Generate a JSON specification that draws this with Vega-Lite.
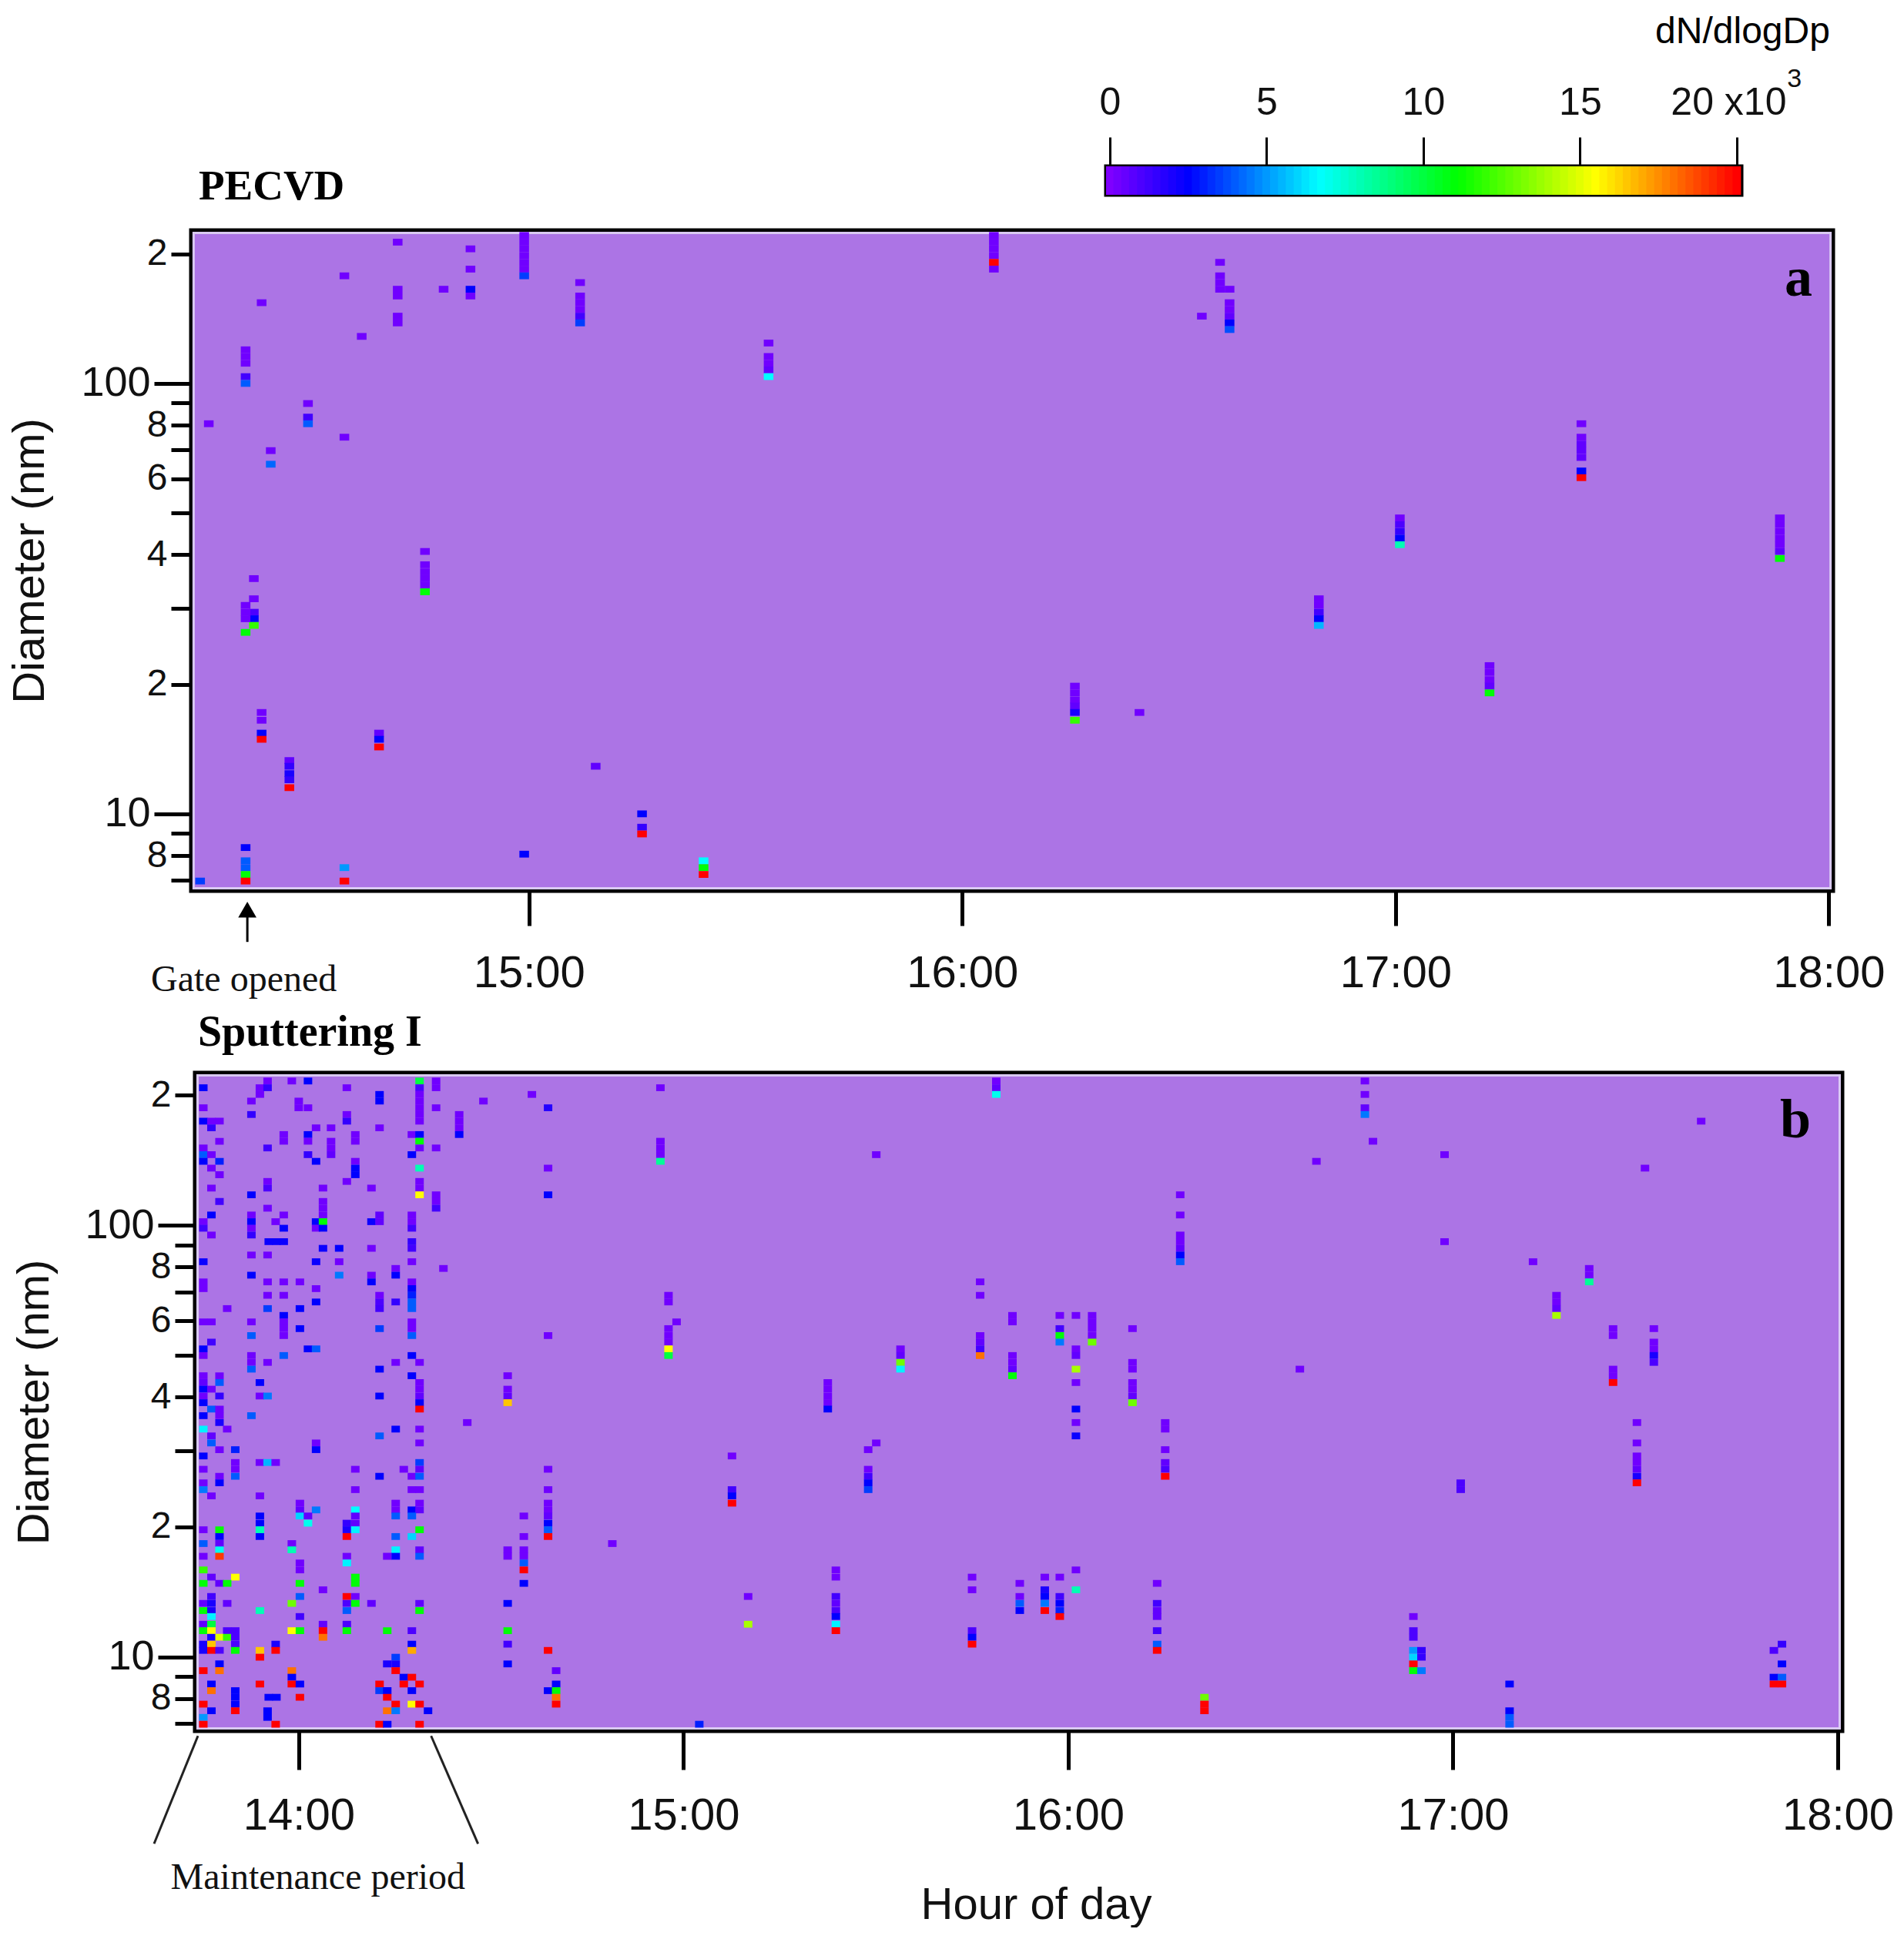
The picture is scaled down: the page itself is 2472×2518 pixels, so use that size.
{"$schema":"https://vega.github.io/schema/vega-lite/v6.json","background":"white","padding":{"left":8,"top":14,"right":0,"bottom":0},"config":{"view":{"stroke":null},"text":{"font":"Liberation Sans"}},"datasets":{"bar":[{"v":0},{"v":0.25},{"v":0.5},{"v":0.75},{"v":1},{"v":1.25},{"v":1.5},{"v":1.75},{"v":2},{"v":2.25},{"v":2.5},{"v":2.75},{"v":3},{"v":3.25},{"v":3.5},{"v":3.75},{"v":4},{"v":4.25},{"v":4.5},{"v":4.75},{"v":5},{"v":5.25},{"v":5.5},{"v":5.75},{"v":6},{"v":6.25},{"v":6.5},{"v":6.75},{"v":7},{"v":7.25},{"v":7.5},{"v":7.75},{"v":8},{"v":8.25},{"v":8.5},{"v":8.75},{"v":9},{"v":9.25},{"v":9.5},{"v":9.75},{"v":10},{"v":10.25},{"v":10.5},{"v":10.75},{"v":11},{"v":11.25},{"v":11.5},{"v":11.75},{"v":12},{"v":12.25},{"v":12.5},{"v":12.75},{"v":13},{"v":13.25},{"v":13.5},{"v":13.75},{"v":14},{"v":14.25},{"v":14.5},{"v":14.75},{"v":15},{"v":15.25},{"v":15.5},{"v":15.75},{"v":16},{"v":16.25},{"v":16.5},{"v":16.75},{"v":17},{"v":17.25},{"v":17.5},{"v":17.75},{"v":18},{"v":18.25},{"v":18.5},{"v":18.75},{"v":19},{"v":19.25},{"v":19.5},{"v":19.75},{"v":20}],
"cellsA":[{"t":14.697,"d":212.9,"v":0.3},{"t":14.865,"d":205.4,"v":0.3},{"t":14.865,"d":184.3,"v":0.3},{"t":14.865,"d":165.5,"v":2.5},{"t":14.865,"d":159.6,"v":0.3},{"t":14.989,"d":220.7,"v":0.3},{"t":14.989,"d":212.9,"v":0.3},{"t":14.989,"d":205.4,"v":0.3},{"t":14.989,"d":198.1,"v":0.3},{"t":14.989,"d":191.1,"v":0.3},{"t":14.989,"d":184.3,"v":0.3},{"t":14.989,"d":177.8,"v":3.5},{"t":14.574,"d":177.8,"v":0.3},{"t":14.697,"d":165.5,"v":0.3},{"t":14.697,"d":159.6,"v":0.3},{"t":14.697,"d":143.3,"v":0.3},{"t":14.697,"d":138.2,"v":0.3},{"t":14.803,"d":165.5,"v":0.3},{"t":15.118,"d":171.5,"v":0.3},{"t":15.118,"d":159.6,"v":0.3},{"t":15.118,"d":154,"v":0.3},{"t":15.118,"d":148.6,"v":0.3},{"t":15.118,"d":143.3,"v":1.2},{"t":15.118,"d":138.2,"v":3.5},{"t":14.383,"d":154,"v":0.3},{"t":14.614,"d":128.6,"v":0.3},{"t":14.346,"d":119.7,"v":0.3},{"t":14.346,"d":115.5,"v":0.3},{"t":14.346,"d":111.4,"v":0.3},{"t":14.346,"d":103.7,"v":1.2},{"t":14.346,"d":100,"v":4},{"t":15.553,"d":124.1,"v":0.3},{"t":15.553,"d":115.5,"v":0.3},{"t":15.553,"d":111.4,"v":0.3},{"t":15.553,"d":107.5,"v":0.6},{"t":15.553,"d":103.7,"v":6.7},{"t":14.49,"d":89.8,"v":0.3},{"t":14.49,"d":83.5,"v":1.2},{"t":14.49,"d":80.6,"v":4},{"t":14.261,"d":80.6,"v":0.3},{"t":14.574,"d":75,"v":0.3},{"t":14.404,"d":69.8,"v":0.3},{"t":14.404,"d":64.9,"v":4.2},{"t":14.76,"d":40.7,"v":0.3},{"t":14.76,"d":37.9,"v":0.3},{"t":14.76,"d":36.5,"v":0.3},{"t":14.76,"d":35.2,"v":0.3},{"t":14.76,"d":34,"v":0.3},{"t":14.76,"d":32.8,"v":11},{"t":14.365,"d":35.2,"v":0.3},{"t":14.365,"d":31.6,"v":0.3},{"t":14.365,"d":29.4,"v":1},{"t":14.365,"d":28.4,"v":2.5},{"t":14.365,"d":27.4,"v":12},{"t":14.346,"d":30.5,"v":0.3},{"t":14.346,"d":29.4,"v":0.3},{"t":14.346,"d":28.4,"v":0.3},{"t":14.346,"d":26.4,"v":11},
{"t":14.383,"d":17.2,"v":0.3},{"t":14.383,"d":16.5,"v":0.3},{"t":14.383,"d":15.4,"v":2.5},{"t":14.383,"d":14.9,"v":20},{"t":14.654,"d":15.4,"v":0.6},{"t":14.654,"d":14.9,"v":2.5},{"t":14.654,"d":14.3,"v":20},{"t":14.447,"d":13.3,"v":0.6},{"t":14.447,"d":12.9,"v":1.5},{"t":14.447,"d":12.4,"v":2},{"t":14.447,"d":12,"v":1.5},{"t":14.447,"d":11.5,"v":20},{"t":15.154,"d":12.9,"v":0.6},{"t":15.261,"d":10,"v":2.5},{"t":15.261,"d":9.31,"v":1.5},{"t":15.261,"d":8.98,"v":20},{"t":14.989,"d":8.06,"v":2.5},{"t":14.346,"d":8.35,"v":2.5},{"t":14.346,"d":7.78,"v":4},{"t":14.346,"d":7.5,"v":4},{"t":14.346,"d":7.23,"v":11},{"t":14.346,"d":6.98,"v":20},{"t":14.241,"d":6.98,"v":3.5},{"t":14.574,"d":7.5,"v":5},{"t":14.574,"d":6.98,"v":20},{"t":15.403,"d":7.78,"v":6.7},{"t":15.403,"d":7.5,"v":11},{"t":15.403,"d":7.23,"v":20},
{"t":16.073,"d":220.7,"v":0.3},{"t":16.073,"d":212.9,"v":0.3},{"t":16.073,"d":205.4,"v":0.3},{"t":16.073,"d":198.1,"v":0.3},{"t":16.073,"d":191.1,"v":20},{"t":16.073,"d":184.3,"v":0.3},{"t":16.595,"d":191.1,"v":0.3},{"t":16.595,"d":177.8,"v":0.3},{"t":16.595,"d":171.5,"v":0.3},{"t":16.595,"d":165.5,"v":0.3},{"t":16.617,"d":165.5,"v":0.3},{"t":16.617,"d":154,"v":0.3},{"t":16.617,"d":148.6,"v":0.3},{"t":16.617,"d":143.3,"v":0.6},{"t":16.617,"d":138.2,"v":2.5},{"t":16.617,"d":133.4,"v":3.8},{"t":16.553,"d":143.3,"v":0.3},{"t":16.26,"d":19.8,"v":0.3},{"t":16.26,"d":19.1,"v":0.3},{"t":16.26,"d":18.4,"v":0.3},{"t":16.26,"d":17.8,"v":0.6},{"t":16.26,"d":17.2,"v":2},{"t":16.26,"d":16.5,"v":12},{"t":16.409,"d":17.2,"v":0.3},
{"t":17.429,"d":80.6,"v":0.3},{"t":17.429,"d":75,"v":0.3},{"t":17.429,"d":72.3,"v":0.6},{"t":17.429,"d":69.8,"v":0.6},{"t":17.429,"d":67.3,"v":0.6},{"t":17.429,"d":62.6,"v":2.5},{"t":17.429,"d":60.4,"v":20},{"t":17.01,"d":48.7,"v":0.3},{"t":17.01,"d":47,"v":1},{"t":17.01,"d":45.3,"v":1.5},{"t":17.01,"d":43.7,"v":2.5},{"t":17.01,"d":42.2,"v":8},{"t":17.887,"d":48.7,"v":0.3},{"t":17.887,"d":47,"v":0.3},{"t":17.887,"d":45.3,"v":0.3},{"t":17.887,"d":43.7,"v":0.3},{"t":17.887,"d":42.2,"v":0.3},{"t":17.887,"d":40.7,"v":0.6},{"t":17.887,"d":39.2,"v":11},{"t":16.823,"d":31.6,"v":0.3},{"t":16.823,"d":30.5,"v":0.3},{"t":16.823,"d":29.4,"v":1.2},{"t":16.823,"d":28.4,"v":2.5},{"t":16.823,"d":27.4,"v":5.5},{"t":17.217,"d":22.1,"v":0.3},{"t":17.217,"d":21.3,"v":0.3},{"t":17.217,"d":20.5,"v":0.3},{"t":17.217,"d":19.8,"v":0.6},{"t":17.217,"d":19.1,"v":11}],
"cellsB":[{"t":13.919,"d":215.8,"v":0.3},{"t":13.982,"d":215.8,"v":0.3},{"t":14.024,"d":215.8,"v":2.5},{"t":14.314,"d":215.8,"v":10},{"t":14.357,"d":215.8,"v":0.3},{"t":13.752,"d":208.2,"v":2.5},{"t":13.899,"d":208.2,"v":0.3},{"t":13.919,"d":208.2,"v":1.5},{"t":14.125,"d":208.2,"v":0.3},{"t":14.314,"d":208.2,"v":1},{"t":14.357,"d":208.2,"v":0.3},{"t":13.899,"d":200.9,"v":0.3},{"t":14.21,"d":200.9,"v":2.5},{"t":14.314,"d":200.9,"v":0.3},{"t":14.606,"d":200.9,"v":0.3},{"t":13.877,"d":193.9,"v":0.3},{"t":14.21,"d":193.9,"v":2.5},{"t":14,"d":193.9,"v":0.3},{"t":14.314,"d":193.9,"v":0.3},{"t":14.48,"d":193.9,"v":0.3},{"t":13.752,"d":187.1,"v":0.3},{"t":14,"d":187.1,"v":0.3},{"t":14.024,"d":187.1,"v":0.3},{"t":14.357,"d":187.1,"v":0.3},{"t":14.314,"d":187.1,"v":0.3},{"t":14.648,"d":187.1,"v":1.8},{"t":13.877,"d":180.5,"v":1.5},{"t":14.125,"d":180.5,"v":0.3},{"t":14.314,"d":180.5,"v":0.3},{"t":14.417,"d":180.5,"v":0.3},{"t":13.752,"d":174.2,"v":2.5},{"t":13.773,"d":174.2,"v":0.3},{"t":13.794,"d":174.2,"v":0.3},{"t":14.125,"d":174.2,"v":1.5},{"t":14.314,"d":174.2,"v":0.3},{"t":14.417,"d":174.2,"v":0.3},{"t":13.773,"d":168.1,"v":1.5},{"t":14.045,"d":168.1,"v":0.3},{"t":14.084,"d":168.1,"v":0.3},{"t":14.21,"d":168.1,"v":0.3},{"t":14.417,"d":168.1,"v":0.3},{"t":13.961,"d":162.2,"v":0.3},{"t":14.024,"d":162.2,"v":2.5},{"t":14.147,"d":162.2,"v":0.3},{"t":14.294,"d":162.2,"v":0.3},{"t":14.314,"d":162.2,"v":2.5},{"t":14.417,"d":162.2,"v":2.5},{"t":13.794,"d":156.5,"v":0.3},{"t":13.961,"d":156.5,"v":0.3},{"t":14.024,"d":156.5,"v":0.3},{"t":14.084,"d":156.5,"v":0.3},{"t":14.147,"d":156.5,"v":0.3},{"t":14.314,"d":156.5,"v":11},{"t":13.752,"d":151,"v":0.3},{"t":13.919,"d":151,"v":1.2},{"t":14.084,"d":151,"v":0.3},{"t":14.314,"d":151,"v":0.3},{"t":14.357,"d":151,"v":0.3},{"t":13.752,"d":145.7,"v":4},{"t":13.773,"d":145.7,"v":0.3},{"t":14.024,"d":145.7,"v":1.5},{"t":14.084,"d":145.7,"v":0.6},{"t":14.294,"d":145.7,"v":2.5},{"t":13.752,"d":140.6,"v":2.5},{"t":13.794,"d":140.6,"v":3},{"t":14.045,"d":140.6,"v":2.5},{"t":14.147,"d":140.6,"v":0.3},{"t":13.773,"d":135.6,"v":0.3},{"t":14.147,"d":135.6,"v":2.5},{"t":14.314,"d":135.6,"v":8},{"t":14.648,"d":135.6,"v":0.3},{"t":13.794,"d":130.9,"v":0.3},{"t":14.147,"d":130.9,"v":2.5},{"t":13.919,"d":126.3,"v":0.3},{"t":14.125,"d":126.3,"v":0.3},{"t":14.314,"d":126.3,"v":0.3},{"t":13.773,"d":121.9,"v":0.3},{"t":13.919,"d":121.9,"v":1},{"t":14.063,"d":121.9,"v":0.3},{"t":14.189,"d":121.9,"v":0.3},{"t":14.314,"d":121.9,"v":0.3},{"t":13.877,"d":117.6,"v":2.5},{"t":14.314,"d":117.6,"v":15.5},{"t":14.357,"d":117.6,"v":0.3},{"t":14.648,"d":117.6,"v":2.5},{"t":13.794,"d":113.5,"v":1.2},{"t":14.063,"d":113.5,"v":0.3},{"t":14.357,"d":113.5,"v":0.3},{"t":13.919,"d":109.5,"v":0.3},{"t":14.063,"d":109.5,"v":0.3},{"t":14.357,"d":109.5,"v":1.2},{"t":13.773,"d":105.6,"v":2.5},{"t":13.877,"d":105.6,"v":0.3},{"t":13.961,"d":105.6,"v":0.3},{"t":14.063,"d":105.6,"v":0.3},{"t":14.21,"d":105.6,"v":0.6},{"t":14.294,"d":105.6,"v":0.3},{"t":13.752,"d":101.9,"v":0.3},{"t":13.877,"d":101.9,"v":2.5},{"t":13.94,"d":101.9,"v":0.3},{"t":14.045,"d":101.9,"v":2.5},{"t":14.063,"d":101.9,"v":11},{"t":14.189,"d":101.9,"v":2.3},{"t":14.21,"d":101.9,"v":0.6},{"t":14.294,"d":101.9,"v":0.3},{"t":13.752,"d":98.4,"v":1.2},{"t":13.877,"d":98.4,"v":0.3},{"t":13.961,"d":98.4,"v":2.5},{"t":14.045,"d":98.4,"v":0.3},{"t":14.063,"d":98.4,"v":2.5},{"t":14.294,"d":98.4,"v":1.2},{"t":13.773,"d":94.9,"v":0.3},{"t":13.877,"d":94.9,"v":1.5},{"t":13.922,"d":91.6,"v":2.3},{"t":13.942,"d":91.6,"v":2.3},{"t":13.961,"d":91.6,"v":2.3},{"t":14.294,"d":91.6,"v":1.5},{"t":14.063,"d":88.4,"v":2.3},{"t":14.105,"d":88.4,"v":2.5},{"t":14.189,"d":88.4,"v":0.3},{"t":14.294,"d":88.4,"v":1.2},{"t":13.877,"d":85.3,"v":0.3},{"t":13.919,"d":85.3,"v":0.3},{"t":13.752,"d":82.3,"v":2.3},{"t":14.045,"d":82.3,"v":2.3},{"t":14.105,"d":82.3,"v":0.3},{"t":14.294,"d":82.3,"v":0.3},{"t":14.252,"d":79.4,"v":0.3},{"t":14.376,"d":79.4,"v":0.3},{"t":13.877,"d":76.6,"v":2.5},{"t":14.105,"d":76.6,"v":4.5},{"t":14.189,"d":76.6,"v":0.3},{"t":14.252,"d":76.6,"v":2.5},{"t":13.752,"d":73.9,"v":0.3},{"t":13.919,"d":73.9,"v":0.3},{"t":13.961,"d":73.9,"v":0.3},{"t":14.003,"d":73.9,"v":0.3},{"t":14.189,"d":73.9,"v":2.5},{"t":14.294,"d":73.9,"v":0.3},{"t":13.752,"d":71.3,"v":0.3},{"t":14.045,"d":71.3,"v":0.3},{"t":14.294,"d":71.3,"v":2.5},{"t":13.919,"d":68.8,"v":0.3},{"t":13.961,"d":68.8,"v":0.3},{"t":14.21,"d":68.8,"v":0.3},{"t":14.294,"d":68.8,"v":3},{"t":14.045,"d":66.4,"v":2.5},{"t":14.21,"d":66.4,"v":1},{"t":14.252,"d":66.4,"v":1.5},{"t":14.294,"d":66.4,"v":4},{"t":13.814,"d":64.1,"v":0.3},{"t":13.919,"d":64.1,"v":3.5},{"t":14.003,"d":64.1,"v":2.5},{"t":14.21,"d":64.1,"v":1.2},{"t":14.294,"d":64.1,"v":4},{"t":13.961,"d":61.8,"v":2.5},{"t":13.752,"d":59.7,"v":0.3},{"t":13.773,"d":59.7,"v":0.3},{"t":13.877,"d":59.7,"v":0.3},{"t":13.961,"d":59.7,"v":0.3},{"t":14.294,"d":59.7,"v":0.3},{"t":13.961,"d":57.6,"v":0.3},{"t":14.003,"d":57.6,"v":2.5},{"t":14.21,"d":57.6,"v":3.5},{"t":14.294,"d":57.6,"v":0.3},{"t":13.877,"d":55.5,"v":4},{"t":13.961,"d":55.5,"v":0.3},{"t":14.294,"d":55.5,"v":4},{"t":14.648,"d":55.5,"v":0.3},{"t":13.773,"d":53.6,"v":1.2},{"t":13.752,"d":51.7,"v":2.5},{"t":14.024,"d":51.7,"v":2.5},{"t":14.045,"d":51.7,"v":4},{"t":13.752,"d":49.9,"v":0.3},{"t":13.877,"d":49.9,"v":0.3},{"t":13.961,"d":49.9,"v":4},{"t":14.294,"d":49.9,"v":2.5},{"t":13.877,"d":48.1,"v":0.3},{"t":13.919,"d":48.1,"v":0.3},{"t":14.252,"d":48.1,"v":0.3},{"t":14.314,"d":48.1,"v":0.3},{"t":13.877,"d":46.4,"v":4},{"t":14.21,"d":46.4,"v":2.5},{"t":13.752,"d":44.8,"v":0.3},{"t":13.794,"d":44.8,"v":0.3},{"t":14.294,"d":44.8,"v":2.5},{"t":14.543,"d":44.8,"v":0.3},{"t":13.752,"d":43.2,"v":0.6},{"t":13.794,"d":43.2,"v":4},{"t":13.899,"d":43.2,"v":2.5},{"t":14.314,"d":43.2,"v":0.3},
{"t":13.752,"d":41.7,"v":2.5},{"t":13.773,"d":41.7,"v":0.3},{"t":14.314,"d":41.7,"v":0.3},{"t":14.543,"d":41.7,"v":0.3},{"t":13.752,"d":40.2,"v":0.3},{"t":13.794,"d":40.2,"v":1.5},{"t":13.899,"d":40.2,"v":0.3},{"t":13.919,"d":40.2,"v":4.5},{"t":14.21,"d":40.2,"v":2.5},{"t":14.314,"d":40.2,"v":0.6},{"t":14.543,"d":40.2,"v":0.6},{"t":13.752,"d":38.8,"v":2.5},{"t":14.314,"d":38.8,"v":2.5},{"t":14.543,"d":38.8,"v":16.5},{"t":13.773,"d":37.5,"v":4},{"t":13.794,"d":37.5,"v":0.3},{"t":14.314,"d":37.5,"v":20},{"t":13.752,"d":36.2,"v":2.5},{"t":13.794,"d":36.2,"v":0.3},{"t":13.877,"d":36.2,"v":4},{"t":13.794,"d":34.9,"v":2},{"t":14.438,"d":34.9,"v":0.3},{"t":13.752,"d":33.7,"v":6.5},{"t":13.814,"d":33.7,"v":0.3},{"t":14.252,"d":33.7,"v":2.5},{"t":14.314,"d":33.7,"v":0.3},{"t":13.773,"d":32.5,"v":0.6},{"t":14.21,"d":32.5,"v":4},{"t":13.773,"d":31.3,"v":4},{"t":14.045,"d":31.3,"v":0.3},{"t":14.314,"d":31.3,"v":0.3},{"t":13.794,"d":30.2,"v":0.3},{"t":13.835,"d":30.2,"v":3},{"t":14.045,"d":30.2,"v":2.5},{"t":13.752,"d":29.2,"v":2.5},{"t":13.835,"d":28.2,"v":0.3},{"t":13.899,"d":28.2,"v":0.3},{"t":13.919,"d":28.2,"v":5.5},{"t":13.94,"d":28.2,"v":0.3},{"t":14.314,"d":28.2,"v":3.5},{"t":13.752,"d":27.2,"v":0.3},{"t":13.835,"d":27.2,"v":0.3},{"t":14.147,"d":27.2,"v":0.3},{"t":14.273,"d":27.2,"v":0.3},{"t":14.314,"d":27.2,"v":0.6},{"t":14.648,"d":27.2,"v":0.3},{"t":13.794,"d":26.2,"v":0.3},{"t":13.835,"d":26.2,"v":4},{"t":14.21,"d":26.2,"v":2.5},{"t":14.294,"d":26.2,"v":0.3},{"t":14.314,"d":26.2,"v":4},{"t":13.752,"d":25.3,"v":0.3},{"t":13.794,"d":25.3,"v":2.5},{"t":13.752,"d":24.4,"v":4.5},{"t":14.147,"d":24.4,"v":0.3},{"t":14.294,"d":24.4,"v":0.3},{"t":14.314,"d":24.4,"v":0.3},{"t":14.648,"d":24.4,"v":0.3},{"t":13.773,"d":23.6,"v":0.3},{"t":13.899,"d":23.6,"v":0.3},{"t":14.003,"d":22.7,"v":0.3},{"t":14.252,"d":22.7,"v":0.3},{"t":14.314,"d":22.7,"v":0.3},{"t":14.648,"d":22.7,"v":0.3},{"t":14.003,"d":21.9,"v":0.6},{"t":14.045,"d":21.9,"v":4.5},{"t":14.147,"d":21.9,"v":6.7},{"t":14.252,"d":21.9,"v":0.3},{"t":14.294,"d":21.9,"v":2.5},{"t":14.314,"d":21.9,"v":0.6},{"t":14.648,"d":21.9,"v":0.3},{"t":13.899,"d":21.2,"v":2.5},{"t":14.003,"d":21.2,"v":6},{"t":14.024,"d":21.2,"v":0.6},{"t":14.147,"d":21.2,"v":0.6},{"t":14.252,"d":21.2,"v":4},{"t":14.294,"d":21.2,"v":4},{"t":14.585,"d":21.2,"v":0.3},{"t":14.648,"d":21.2,"v":0.6},{"t":13.899,"d":20.4,"v":2.5},{"t":14.024,"d":20.4,"v":7},{"t":14.125,"d":20.4,"v":1.5},{"t":14.147,"d":20.4,"v":0.6},{"t":14.648,"d":20.4,"v":2.5},{"t":13.752,"d":19.7,"v":0.3},{"t":13.794,"d":19.7,"v":11},{"t":13.899,"d":19.7,"v":8},{"t":14.125,"d":19.7,"v":2},{"t":14.147,"d":19.7,"v":6.5},{"t":14.314,"d":19.7,"v":11},{"t":14.648,"d":19.7,"v":4},{"t":13.794,"d":19,"v":2.5},{"t":13.899,"d":19,"v":2.5},{"t":14.125,"d":19,"v":20},{"t":14.252,"d":19,"v":4},{"t":14.294,"d":19,"v":6},{"t":14.585,"d":19,"v":0.3},{"t":14.648,"d":19,"v":20},{"t":13.752,"d":18.3,"v":4},{"t":13.794,"d":18.3,"v":0.6},{"t":13.982,"d":18.3,"v":0.3},{"t":13.794,"d":17.7,"v":7},{"t":13.982,"d":17.7,"v":8},{"t":14.252,"d":17.7,"v":6.5},{"t":14.314,"d":17.7,"v":0.6},{"t":14.543,"d":17.7,"v":0.3},{"t":14.585,"d":17.7,"v":0.3},{"t":13.752,"d":17.1,"v":0.3},{"t":13.794,"d":17.1,"v":19},{"t":14.125,"d":17.1,"v":0.3},{"t":14.23,"d":17.1,"v":0.3},{"t":14.252,"d":17.1,"v":2.5},{"t":14.314,"d":17.1,"v":4},{"t":14.543,"d":17.1,"v":0.3},{"t":14.585,"d":17.1,"v":0.3},{"t":14.003,"d":16.5,"v":0.3},{"t":14.125,"d":16.5,"v":6.5},{"t":14.585,"d":16.5,"v":4},{"t":13.752,"d":15.9,"v":12},{"t":14.003,"d":15.9,"v":0.3},{"t":14.585,"d":15.9,"v":20},{"t":13.773,"d":15.3,"v":0.6},{"t":13.835,"d":15.3,"v":15.5},{"t":14.147,"d":15.3,"v":11},{"t":13.752,"d":14.8,"v":11},{"t":13.794,"d":14.8,"v":0.6},{"t":13.814,"d":14.8,"v":11},{"t":14.003,"d":14.8,"v":11},{"t":14.147,"d":14.8,"v":11},{"t":14.585,"d":14.8,"v":2.5},{"t":14.063,"d":14.3,"v":0.3},{"t":13.773,"d":13.8,"v":1.2},{"t":14.003,"d":13.8,"v":4},{"t":14.125,"d":13.8,"v":20},{"t":14.147,"d":13.8,"v":0.3},{"t":13.752,"d":13.3,"v":0.6},{"t":13.773,"d":13.3,"v":2},{"t":13.814,"d":13.3,"v":0.6},{"t":13.982,"d":13.3,"v":13},{"t":14.125,"d":13.3,"v":1},{"t":14.147,"d":13.3,"v":11},{"t":14.189,"d":13.3,"v":0.6},{"t":14.314,"d":13.3,"v":0.6},{"t":14.543,"d":13.3,"v":2.5},{"t":13.752,"d":12.8,"v":11},{"t":13.773,"d":12.8,"v":2},{"t":13.899,"d":12.8,"v":8},{"t":14.125,"d":12.8,"v":4},{"t":14.314,"d":12.8,"v":11},{"t":13.773,"d":12.4,"v":6.5},{"t":14.003,"d":12.4,"v":1.2},{"t":13.752,"d":11.9,"v":0.6},{"t":13.773,"d":11.9,"v":10},{"t":14.063,"d":11.9,"v":0.6},{"t":14.125,"d":11.9,"v":1},{"t":13.752,"d":11.5,"v":11},{"t":13.773,"d":11.5,"v":15.5},{"t":13.814,"d":11.5,"v":1},{"t":13.835,"d":11.5,"v":1},{"t":13.982,"d":11.5,"v":15.5},{"t":14.003,"d":11.5,"v":11},{"t":14.063,"d":11.5,"v":20},{"t":14.125,"d":11.5,"v":11},{"t":14.23,"d":11.5,"v":11},{"t":14.294,"d":11.5,"v":1},{"t":14.543,"d":11.5,"v":11},{"t":13.773,"d":11.1,"v":2},{"t":13.794,"d":11.1,"v":15},{"t":13.814,"d":11.1,"v":12},{"t":13.835,"d":11.1,"v":1},{"t":14.063,"d":11.1,"v":18},{"t":13.752,"d":10.7,"v":2},{"t":13.773,"d":10.7,"v":16.5},{"t":13.835,"d":10.7,"v":1},{"t":13.94,"d":10.7,"v":2},{"t":14.294,"d":10.7,"v":2.5},{"t":14.543,"d":10.7,"v":1.2},{"t":13.752,"d":10.35,"v":2},{"t":13.773,"d":10.35,"v":20},{"t":13.794,"d":10.35,"v":1},{"t":13.835,"d":10.35,"v":11},{"t":13.899,"d":10.35,"v":16.5},{"t":13.94,"d":10.35,"v":20},{"t":14.294,"d":10.35,"v":17},{"t":14.648,"d":10.35,"v":20},{"t":13.899,"d":9.98,"v":20},{"t":14.252,"d":9.98,"v":3.5},{"t":13.794,"d":9.63,"v":2.5},{"t":14.23,"d":9.63,"v":2},{"t":14.252,"d":9.63,"v":2},{"t":14.543,"d":9.63,"v":2.5},{"t":13.752,"d":9.29,"v":20},{"t":13.794,"d":9.29,"v":18},{"t":13.982,"d":9.29,"v":18},{"t":14.252,"d":9.29,"v":20},{"t":14.669,"d":9.29,"v":0.6},{"t":13.982,"d":8.97,"v":2.5},{"t":14.273,"d":8.97,"v":2.5},{"t":14.294,"d":8.97,"v":20},{"t":13.773,"d":8.65,"v":2.5},{"t":13.899,"d":8.65,"v":20},{"t":13.982,"d":8.65,"v":20},{"t":14.003,"d":8.65,"v":2.5},{"t":14.21,"d":8.65,"v":20},{"t":14.273,"d":8.65,"v":20},{"t":14.314,"d":8.65,"v":20},{"t":14.669,"d":8.65,"v":2.5},{"t":13.773,"d":8.35,"v":18},{"t":13.835,"d":8.35,"v":2.5},{"t":14.21,"d":8.35,"v":3.5},{"t":14.23,"d":8.35,"v":2.5},{"t":14.294,"d":8.35,"v":2.5},{"t":14.648,"d":8.35,"v":2.5},{"t":14.669,"d":8.35,"v":11},{"t":13.835,"d":8.06,"v":2.5},{"t":13.922,"d":8.06,"v":2.5},{"t":13.942,"d":8.06,"v":2.5},{"t":14.003,"d":8.06,"v":20},{"t":14.23,"d":8.06,"v":20},{"t":14.669,"d":8.06,"v":18},{"t":13.752,"d":7.77,"v":20},{"t":13.835,"d":7.77,"v":2.5},{"t":14.252,"d":7.77,"v":20},{"t":14.294,"d":7.77,"v":15.5},{"t":14.314,"d":7.77,"v":20},{"t":14.669,"d":7.77,"v":20},{"t":13.773,"d":7.5,"v":2.5},{"t":13.835,"d":7.5,"v":20},{"t":13.919,"d":7.5,"v":2.5},{"t":14.23,"d":7.5,"v":18},{"t":14.252,"d":7.5,"v":4.5},{"t":14.336,"d":7.5,"v":2.5},{"t":13.752,"d":7.24,"v":5},{"t":13.919,"d":7.24,"v":2.5},{"t":13.752,"d":6.98,"v":20},{"t":13.94,"d":6.98,"v":20},{"t":14.21,"d":6.98,"v":20},{"t":14.23,"d":6.98,"v":2.5},{"t":14.314,"d":6.98,"v":20},
{"t":14.94,"d":208.2,"v":0.3},{"t":14.94,"d":156.5,"v":0.3},{"t":14.94,"d":151,"v":0.3},{"t":14.94,"d":145.7,"v":0.3},{"t":14.94,"d":140.6,"v":8.5},{"t":14.961,"d":68.8,"v":0.3},{"t":14.961,"d":66.4,"v":0.3},{"t":14.982,"d":59.7,"v":0.3},{"t":14.961,"d":57.6,"v":0.3},{"t":14.961,"d":55.5,"v":0.3},{"t":14.961,"d":53.6,"v":0.3},{"t":14.961,"d":51.7,"v":15.5},{"t":14.961,"d":49.9,"v":10},{"t":15.501,"d":145.7,"v":0.3},{"t":15.375,"d":43.2,"v":0.3},{"t":15.375,"d":41.7,"v":0.3},{"t":15.375,"d":40.2,"v":0.3},{"t":15.375,"d":38.8,"v":0.3},{"t":15.375,"d":37.5,"v":2.5},{"t":15.564,"d":51.7,"v":0.3},{"t":15.564,"d":49.9,"v":0.6},{"t":15.564,"d":48.1,"v":13},{"t":15.564,"d":46.4,"v":6.5},{"t":15.771,"d":73.9,"v":0.3},{"t":15.771,"d":68.8,"v":0.3},{"t":15.771,"d":55.5,"v":0.3},{"t":15.771,"d":53.6,"v":0.6},{"t":15.771,"d":51.7,"v":1.2},{"t":15.771,"d":49.9,"v":18},{"t":15.855,"d":61.8,"v":0.3},{"t":15.855,"d":59.7,"v":0.3},{"t":15.855,"d":49.9,"v":0.3},{"t":15.855,"d":48.1,"v":0.3},{"t":15.855,"d":46.4,"v":0.6},{"t":15.855,"d":44.8,"v":11},{"t":15.813,"d":215.8,"v":0.3},{"t":15.813,"d":208.2,"v":0.6},{"t":15.813,"d":200.9,"v":7},{"t":15.126,"d":29.2,"v":0.3},{"t":15.126,"d":24.4,"v":1.2},{"t":15.126,"d":23.6,"v":2.5},{"t":15.126,"d":22.7,"v":20},{"t":15.48,"d":30.2,"v":0.3},{"t":15.501,"d":31.3,"v":0.3},{"t":15.48,"d":27.2,"v":0.3},{"t":15.48,"d":26.2,"v":1.2},{"t":15.48,"d":25.3,"v":2.5},{"t":15.48,"d":24.4,"v":3.5},{"t":14.815,"d":18.3,"v":0.3},{"t":15.396,"d":15.9,"v":0.3},{"t":15.396,"d":15.3,"v":0.3},{"t":15.396,"d":13.8,"v":1.2},{"t":15.396,"d":13.3,"v":0.6},{"t":15.396,"d":12.8,"v":1},{"t":15.396,"d":12.4,"v":2.5},{"t":15.396,"d":11.9,"v":6.5},{"t":15.396,"d":11.5,"v":20},{"t":15.168,"d":13.8,"v":0.3},{"t":15.168,"d":11.9,"v":14},{"t":15.75,"d":15.3,"v":0.3},{"t":15.75,"d":14.3,"v":0.3},{"t":15.75,"d":11.5,"v":1},{"t":15.75,"d":11.1,"v":2.5},{"t":15.75,"d":10.7,"v":20},{"t":15.874,"d":14.8,"v":0.3},{"t":15.874,"d":13.8,"v":0.3},{"t":15.874,"d":13.3,"v":4},{"t":15.874,"d":12.8,"v":2.5},{"t":15.041,"d":6.98,"v":3},
{"t":16.771,"d":215.8,"v":0.3},{"t":16.771,"d":200.9,"v":0.3},{"t":16.771,"d":187.1,"v":0.6},{"t":16.771,"d":180.5,"v":4.5},{"t":16.792,"d":156.5,"v":0.3},{"t":16.645,"d":140.6,"v":0.3},{"t":16.978,"d":145.7,"v":0.3},{"t":16.978,"d":91.6,"v":0.3},{"t":16.291,"d":117.6,"v":0.3},{"t":16.291,"d":105.6,"v":0.3},{"t":16.291,"d":94.9,"v":0.3},{"t":16.291,"d":91.6,"v":0.3},{"t":16.291,"d":88.4,"v":0.6},{"t":16.291,"d":85.3,"v":2.5},{"t":16.291,"d":82.3,"v":4},{"t":15.978,"d":61.8,"v":0.3},{"t":15.978,"d":57.6,"v":1.2},{"t":15.978,"d":55.5,"v":11},{"t":15.978,"d":53.6,"v":4.5},{"t":16.02,"d":61.8,"v":0.3},{"t":16.02,"d":51.7,"v":0.3},{"t":16.02,"d":49.9,"v":0.6},{"t":16.02,"d":46.4,"v":14},{"t":16.02,"d":43.2,"v":0.3},{"t":16.02,"d":37.5,"v":2.5},{"t":16.02,"d":34.9,"v":0.3},{"t":16.02,"d":32.5,"v":2.3},{"t":16.062,"d":61.8,"v":0.3},{"t":16.062,"d":59.7,"v":0.3},{"t":16.062,"d":57.6,"v":0.3},{"t":16.062,"d":55.5,"v":0.3},{"t":16.062,"d":53.6,"v":13},{"t":16.167,"d":57.6,"v":0.3},{"t":16.167,"d":48.1,"v":0.3},{"t":16.167,"d":46.4,"v":0.3},{"t":16.167,"d":43.2,"v":0.3},{"t":16.167,"d":41.7,"v":0.3},{"t":16.167,"d":40.2,"v":0.6},{"t":16.167,"d":38.8,"v":13},{"t":16.602,"d":46.4,"v":0.3},{"t":16.252,"d":34.9,"v":0.3},{"t":16.252,"d":33.7,"v":0.3},{"t":16.252,"d":30.2,"v":0.3},{"t":16.252,"d":28.2,"v":0.6},{"t":16.252,"d":27.2,"v":1},{"t":16.252,"d":26.2,"v":20},{"t":17.02,"d":25.3,"v":1},{"t":17.02,"d":24.4,"v":1},{"t":15.939,"d":15.3,"v":0.3},{"t":15.939,"d":14.3,"v":2},{"t":15.939,"d":13.8,"v":2.5},{"t":15.939,"d":13.3,"v":4.5},{"t":15.939,"d":12.8,"v":20},{"t":15.978,"d":15.3,"v":0.3},{"t":15.978,"d":13.8,"v":1.2},{"t":15.978,"d":13.3,"v":2.5},{"t":15.978,"d":12.8,"v":3},{"t":15.978,"d":12.4,"v":20},{"t":16.02,"d":15.9,"v":0.3},{"t":16.02,"d":14.3,"v":8},{"t":16.231,"d":14.8,"v":0.3},{"t":16.231,"d":13.3,"v":1.2},{"t":16.231,"d":12.8,"v":0.6},{"t":16.231,"d":12.4,"v":0.6},{"t":16.231,"d":11.5,"v":1.2},{"t":16.231,"d":10.7,"v":4},{"t":16.231,"d":10.35,"v":20},{"t":16.354,"d":8.06,"v":13},{"t":16.354,"d":7.77,"v":20},{"t":16.354,"d":7.5,"v":20},{"t":16.897,"d":12.4,"v":0.3},{"t":16.897,"d":11.5,"v":1},{"t":16.897,"d":11.1,"v":1},{"t":16.897,"d":10.35,"v":5},{"t":16.897,"d":9.98,"v":6},{"t":16.897,"d":9.63,"v":20},{"t":16.897,"d":9.29,"v":11},{"t":16.918,"d":10.35,"v":1.5},{"t":16.918,"d":9.98,"v":1.5},{"t":16.918,"d":9.29,"v":4.5},{"t":17.645,"d":174.2,"v":0.3},{"t":17.499,"d":135.6,"v":0.3},{"t":17.208,"d":82.3,"v":0.3},{"t":17.354,"d":79.4,"v":0.3},{"t":17.354,"d":76.6,"v":0.3},{"t":17.354,"d":73.9,"v":8.5},{"t":17.269,"d":68.8,"v":0.3},{"t":17.269,"d":66.4,"v":0.3},{"t":17.269,"d":64.1,"v":0.6},{"t":17.269,"d":61.8,"v":14},{"t":17.416,"d":57.6,"v":0.3},{"t":17.416,"d":55.5,"v":0.3},{"t":17.416,"d":46.4,"v":0.3},{"t":17.416,"d":44.8,"v":0.3},{"t":17.416,"d":43.2,"v":20},{"t":17.522,"d":57.6,"v":0.3},{"t":17.522,"d":53.6,"v":0.3},{"t":17.522,"d":51.7,"v":0.3},{"t":17.522,"d":49.9,"v":2},{"t":17.522,"d":48.1,"v":1},{"t":17.478,"d":34.9,"v":0.3},{"t":17.478,"d":31.3,"v":0.3},{"t":17.478,"d":29.2,"v":0.3},{"t":17.478,"d":28.2,"v":0.3},{"t":17.478,"d":27.2,"v":0.6},{"t":17.478,"d":26.2,"v":2},{"t":17.478,"d":25.3,"v":20},{"t":17.147,"d":8.65,"v":2.5},{"t":17.147,"d":7.5,"v":2.5},{"t":17.147,"d":7.24,"v":4},{"t":17.147,"d":6.98,"v":4},{"t":17.855,"d":10.7,"v":1.5},{"t":17.834,"d":10.35,"v":1},{"t":17.855,"d":9.63,"v":2.5},{"t":17.834,"d":8.97,"v":2.5},{"t":17.855,"d":8.97,"v":4},{"t":17.834,"d":8.65,"v":20},{"t":17.855,"d":8.65,"v":20}]},
"concat":[{"concat":[{"hconcat":[{"width":1176,"height":37,"data":{"values":[{"v":0}]},"mark":{"type":"rect","opacity":0},"encoding":{}},{"width":825,"height":37,"data":{"name":"bar"},"view":{"stroke":"black","strokeWidth":5},"layer":[{"mark":{"type":"rect","width":11,"clip":true},"encoding":{"x":{"field":"v","type":"quantitative","scale":{"domain":[-0.12,20.15],"nice":false,"zero":false},"axis":{"orient":"top","title":"dN/dlogDp","titleFont":"Liberation Sans","titleFontWeight":"normal","titleFontSize":48,"titleX":826,"titleY":-175,"titleAlign":"center","titleBaseline":"middle","values":[0,5,10,15,20],"labelExpr":"datum.value==20?'20 x10':datum.value","labelFont":"Liberation Sans","labelFontSize":50,"labelPadding":20,"labelOffset":{"condition":{"test":"datum.value==20","value":-11},"value":0},"labelOverlap":false,"labelFlush":false,"labelBound":false,"tickSize":38,"tickWidth":3,"tickColor":"black","domain":false,"grid":false,"labelColor":"#111"}},"color":{"field":"v","type":"quantitative","scale":{"type":"linear","interpolate":"rgb","domain":[0,2.5,6.7,11.1,15.5,20],"range":["#7f00ff","#0000ff","#00ffff","#00ff00","#ffff00","#ff0000"]},"legend":null}}},{"data":{"values":[{"v":21.84,"label":"3"}]},"mark":{"type":"text","font":"Liberation Sans","fontSize":34,"dy":-132,"color":"#111"},"encoding":{"x":{"field":"v","type":"quantitative"},"text":{"field":"label"}}}]}],"spacing":0},
{"width":2132,"height":858,"view":{"fill":"#ac74e5","stroke":"black","strokeWidth":5},"title":{"text":"PECVD","anchor":"start","font":"Liberation Serif","fontSize":55,"fontWeight":"bold","offset":28,"dx":247,"color":"black"},"encoding":{"x":{"field":"t","type":"quantitative","scale":{"domain":[14.22,18.01],"nice":false,"zero":false},"axis":{"title":null,"values":[15,16,17,18],"labelExpr":"datum.value+':00'","labelFont":"Liberation Sans","labelFontSize":58,"labelPadding":33,"labelOverlap":false,"labelFlush":false,"labelBound":false,"tickSize":45,"tickWidth":5,"tickColor":"black","domain":false,"grid":false,"labelColor":"#111"}},"y":{"field":"d","type":"quantitative","scale":{"type":"log","domain":[6.62,226.9],"nice":false},"axis":{"title":"Diameter (nm)","titleFont":"Liberation Sans","titleFontWeight":"normal","titleFontSize":58,"titlePadding":36,"titleColor":"#111","values":[7,8,9,10,20,30,40,50,60,70,80,90,100,200],"labelExpr":"datum.value==10?'10':datum.value==100?'100':datum.value==8?'8':datum.value==200?'2':datum.value==20?'2':datum.value==40?'4':datum.value==60?'6':datum.value==80?'8':''","labelFont":"Liberation Sans","labelFontSize":{"condition":{"test":"datum.value==10||datum.value==100","value":54},"value":48},"labelPadding":5,"labelOverlap":false,"labelFlush":false,"labelBound":false,"tickSize":{"condition":{"test":"datum.value==10||datum.value==100","value":48},"value":26},"tickWidth":5,"tickColor":"black","domain":false,"grid":false,"labelColor":"#111"}}},"layer":[{"data":{"values":[{"t":14.226,"t2":18.004,"d":6.716,"d2":223.7}]},"mark":{"type":"rect","fill":null,"stroke":"#d9c9f2","strokeWidth":3},"encoding":{"x2":{"field":"t2"},"y2":{"field":"d2"}}},{"data":{"name":"cellsA"},"mark":{"type":"rect","width":12.5,"height":8.8},"encoding":{"color":{"field":"v","type":"quantitative","scale":{"type":"linear","interpolate":"rgb","domain":[0,2.5,6.7,11.1,15.5,20],"range":["#7f00ff","#0000ff","#00ffff","#00ff00","#ffff00","#ff0000"]},"legend":null}}},{"data":{"values":[{"t":17.93,"d":175,"label":"a"}]},"mark":{"type":"text","font":"Liberation Serif","fontWeight":"bold","fontSize":72,"color":"black","baseline":"middle"},"encoding":{"text":{"field":"label"}}},{"data":{"values":[{"t":14.342,"d":4.1,"label":"Gate opened"}]},"mark":{"type":"text","font":"Liberation Serif","fontSize":48,"color":"#111","baseline":"middle"},"encoding":{"text":{"field":"label"}}},{"data":{"values":[{"t":14.35,"d":5.04,"d2":5.95}]},"mark":{"type":"rule","color":"black","strokeWidth":3},"encoding":{"y2":{"field":"d2"}}},{"data":{"values":[{"t":14.35,"d":5.99}]},"mark":{"type":"point","shape":"triangle-up","filled":true,"size":560,"color":"black","opacity":1},"encoding":{}}]}],"columns":1,"align":"none","spacing":-44},
{"width":2144,"height":855,"title":{"text":"Sputtering I","anchor":"start","font":"Liberation Serif","fontSize":56,"fontWeight":"bold","offset":21,"dx":240,"color":"black"},"encoding":{"x":{"field":"t","type":"quantitative","scale":{"domain":[13.72,18.012],"nice":false,"zero":false},"axis":{"title":"Hour of day","titleX":1097,"titleFont":"Liberation Sans","titleFontWeight":"normal","titleFontSize":58,"titleColor":"#111","titlePadding":58,"values":[14,15,16,17,18],"labelExpr":"datum.value+':00'","labelFont":"Liberation Sans","labelFontSize":58,"labelPadding":31,"labelOverlap":false,"labelFlush":false,"labelBound":false,"tickSize":50,"tickWidth":5,"tickColor":"black","domain":false,"grid":false,"labelColor":"#111"}},"y":{"field":"d","type":"quantitative","scale":{"type":"log","domain":[6.73,225.6],"nice":false},"axis":{"title":"Diameter (nm)","offset":-5,"titleFont":"Liberation Sans","titleFontWeight":"normal","titleFontSize":58,"titlePadding":35,"titleColor":"#111","values":[7,8,9,10,20,30,40,50,60,70,80,90,100,200],"labelExpr":"datum.value==10?'10':datum.value==100?'100':datum.value==8?'8':datum.value==200?'2':datum.value==20?'2':datum.value==40?'4':datum.value==60?'6':datum.value==80?'8':''","labelFont":"Liberation Sans","labelFontSize":{"condition":{"test":"datum.value==10||datum.value==100","value":54},"value":48},"labelPadding":5,"labelOverlap":false,"labelFlush":false,"labelBound":false,"tickSize":{"condition":{"test":"datum.value==10||datum.value==100","value":48},"value":26},"tickWidth":5,"tickColor":"black","domain":false,"grid":false,"labelColor":"#111"}}},"layer":[{"data":{"values":[{"t":13.73,"t2":18.012,"d":6.73,"d2":225.6}]},"mark":{"type":"rect","fill":"#ac74e5","stroke":"black","strokeWidth":5},"encoding":{"x2":{"field":"t2"},"y2":{"field":"d2"}}},{"data":{"values":[{"t":13.737,"t2":18.005,"d":6.826,"d2":222.4}]},"mark":{"type":"rect","fill":null,"stroke":"#d9c9f2","strokeWidth":3},"encoding":{"x2":{"field":"t2"},"y2":{"field":"d2"}}},{"data":{"name":"cellsB"},"mark":{"type":"rect","width":11,"height":8.8},"encoding":{"color":{"field":"v","type":"quantitative","scale":{"type":"linear","interpolate":"rgb","domain":[0,2.5,6.7,11.1,15.5,20],"range":["#7f00ff","#0000ff","#00ffff","#00ff00","#ffff00","#ff0000"]},"legend":null}}},{"data":{"values":[{"t":17.89,"d":175,"label":"b"}]},"mark":{"type":"text","font":"Liberation Serif","fontWeight":"bold","fontSize":72,"color":"black","baseline":"middle"},"encoding":{"text":{"field":"label"}}},{"data":{"values":[{"t":14.05,"d":3.07,"label":"Maintenance period"}]},"mark":{"type":"text","font":"Liberation Serif","fontSize":48,"color":"#111","baseline":"middle"},"encoding":{"text":{"field":"label"}}},{"data":{"values":[{"t":13.738,"d":6.56,"t2":13.624,"d2":3.69},{"t":14.344,"d":6.56,"t2":14.466,"d2":3.69}]},"mark":{"type":"rule","color":"#222","strokeWidth":3},"encoding":{"x2":{"field":"t2"},"y2":{"field":"d2"}}}]}],"columns":1,"align":"none","spacing":12}
